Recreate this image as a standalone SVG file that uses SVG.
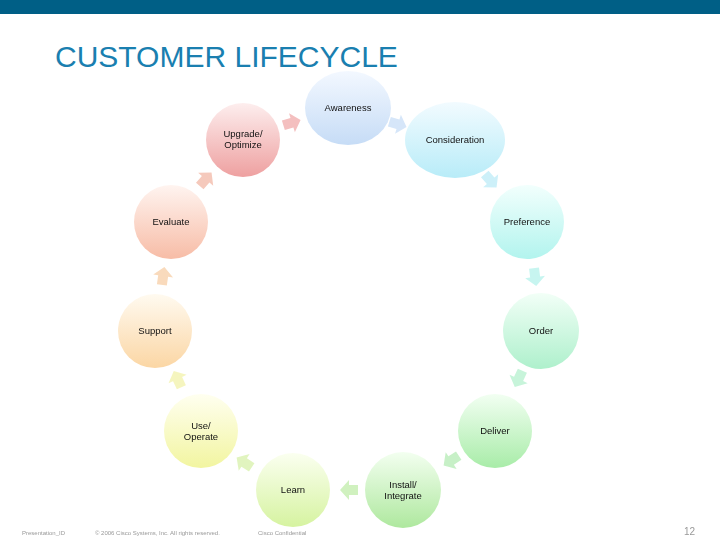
<svg xmlns="http://www.w3.org/2000/svg" width="720" height="540" viewBox="0 0 720 540">
<style>
text{font-family:"Liberation Sans",Arial,sans-serif;}
.l{font-size:9.5px;fill:#111;text-anchor:middle}
.f{font-size:6px;fill:#999}
</style>
<defs>
<linearGradient id="g1" x1="0" y1="0" x2="0" y2="1"><stop offset="0" stop-color="#f3f8ff"/><stop offset="1" stop-color="#c6dcf6"/></linearGradient>
<linearGradient id="g2" x1="0" y1="0" x2="0" y2="1"><stop offset="0" stop-color="#f2fbff"/><stop offset="1" stop-color="#b8ecf8"/></linearGradient>
<linearGradient id="g3" x1="0" y1="0" x2="0" y2="1"><stop offset="0" stop-color="#f2fffd"/><stop offset="1" stop-color="#b2f4ee"/></linearGradient>
<linearGradient id="g4" x1="0" y1="0" x2="0" y2="1"><stop offset="0" stop-color="#f2fff7"/><stop offset="1" stop-color="#aef0cc"/></linearGradient>
<linearGradient id="g5" x1="0" y1="0" x2="0" y2="1"><stop offset="0" stop-color="#f2fff2"/><stop offset="1" stop-color="#a8eca8"/></linearGradient>
<linearGradient id="g6" x1="0" y1="0" x2="0" y2="1"><stop offset="0" stop-color="#f3fff0"/><stop offset="1" stop-color="#aee89e"/></linearGradient>
<linearGradient id="g7" x1="0" y1="0" x2="0" y2="1"><stop offset="0" stop-color="#fbfff0"/><stop offset="1" stop-color="#d6f3a0"/></linearGradient>
<linearGradient id="g8" x1="0" y1="0" x2="0" y2="1"><stop offset="0" stop-color="#fffff0"/><stop offset="1" stop-color="#f2f5a0"/></linearGradient>
<linearGradient id="g9" x1="0" y1="0" x2="0" y2="1"><stop offset="0" stop-color="#fffaf0"/><stop offset="1" stop-color="#fbd6a4"/></linearGradient>
<linearGradient id="g10" x1="0" y1="0" x2="0" y2="1"><stop offset="0" stop-color="#fff4f0"/><stop offset="1" stop-color="#f7bca6"/></linearGradient>
<linearGradient id="g11" x1="0" y1="0" x2="0" y2="1"><stop offset="0" stop-color="#fdeeee"/><stop offset="1" stop-color="#eea0a0"/></linearGradient>
<path id="ar" d="M-8,-5 L1,-5 L1,-10 L10,0 L1,10 L1,5 L-8,5 Z"/>
</defs>
<rect x="0" y="0" width="720" height="14" fill="#005f86"/>
<text x="55" y="67" font-size="30" fill="#1a7fb0">CUSTOMER LIFECYCLE</text>
<g id="connectors" opacity="0.85">
<use href="#ar" fill="#f2b4b4" transform="translate(291,123) rotate(-17)"/>
<use href="#ar" fill="#cfe2f8" transform="translate(397,124) rotate(17)"/>
<use href="#ar" fill="#c4eef8" transform="translate(490,180) rotate(49)"/>
<use href="#ar" fill="#bdf4ee" transform="translate(535,276) rotate(83)"/>
<use href="#ar" fill="#bdf2d4" transform="translate(519,378) rotate(115)"/>
<use href="#ar" fill="#bdeebd" transform="translate(452,460) rotate(147)"/>
<use href="#ar" fill="#c8efb4" transform="translate(350,490) rotate(180)"/>
<use href="#ar" fill="#dcf3b4" transform="translate(245,463) rotate(213)"/>
<use href="#ar" fill="#f4f4b4" transform="translate(178,380) rotate(245)"/>
<use href="#ar" fill="#f8d4b0" transform="translate(163,277) rotate(278)"/>
<use href="#ar" fill="#f4c0b0" transform="translate(205,180) rotate(-49)"/>
</g>
<g id="awareness"><ellipse cx="348" cy="108" rx="43" ry="37" fill="url(#g1)"/><text class="l" x="348" y="111">Awareness</text></g>
<g id="consideration"><ellipse cx="455" cy="140" rx="50" ry="38" fill="url(#g2)"/><text class="l" x="455" y="143">Consideration</text></g>
<g id="preference"><circle cx="527" cy="222" r="37" fill="url(#g3)"/><text class="l" x="527" y="225">Preference</text></g>
<g id="order"><circle cx="541" cy="331" r="38" fill="url(#g4)"/><text class="l" x="541" y="334">Order</text></g>
<g id="deliver"><circle cx="495" cy="431" r="37" fill="url(#g5)"/><text class="l" x="495" y="434">Deliver</text></g>
<g id="install"><circle cx="403" cy="490" r="38" fill="url(#g6)"/><text class="l" x="403" y="488">Install/</text><text class="l" x="403" y="499">Integrate</text></g>
<g id="learn"><circle cx="293" cy="490" r="37" fill="url(#g7)"/><text class="l" x="293" y="493">Learn</text></g>
<g id="use"><circle cx="201" cy="431" r="37" fill="url(#g8)"/><text class="l" x="201" y="429">Use/</text><text class="l" x="201" y="440">Operate</text></g>
<g id="support"><circle cx="155" cy="331" r="37" fill="url(#g9)"/><text class="l" x="155" y="334">Support</text></g>
<g id="evaluate"><circle cx="171" cy="222" r="37" fill="url(#g10)"/><text class="l" x="171" y="225">Evaluate</text></g>
<g id="upgrade"><circle cx="243" cy="140" r="37" fill="url(#g11)"/><text class="l" x="243" y="137">Upgrade/</text><text class="l" x="243" y="148">Optimize</text></g>
<text class="f" x="22" y="535">Presentation_ID</text>
<text class="f" x="95" y="535">© 2006 Cisco Systems, Inc. All rights reserved.</text>
<text class="f" x="258" y="535">Cisco Confidential</text>
<text x="695" y="535" font-size="10" fill="#999" text-anchor="end">12</text>
</svg>
